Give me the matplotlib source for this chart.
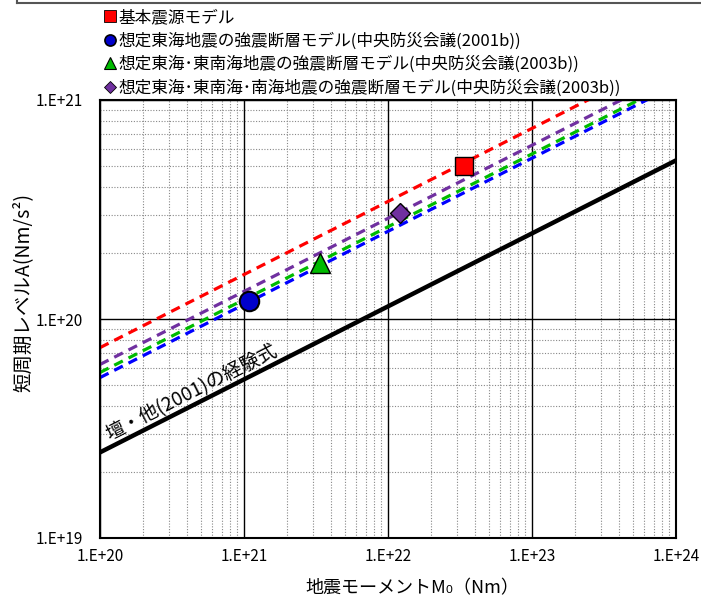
import numpy as np
import matplotlib
matplotlib.use("Agg")
import matplotlib.pyplot as plt
from matplotlib.lines import Line2D
from matplotlib.ticker import LogLocator, FixedLocator

plt.rcParams['font.family'] = ['Noto Sans CJK JP', 'DejaVu Sans']

# 壇・他(2001)の経験式 (端点)
dan_x = [1e20, 1e24]
dan_y = [2.46e19, 5.3e20]

# 破線 (各モデルを通る線の端点)
line_x = [1e20, 1e24]
red_y = [7.4e19, 1.6e21]
purple_y = [6.2e19, 1.34e21]
green_y = [5.7e19, 1.22e21]
blue_y = [5.4e19, 1.17e21]

# モデルの点
kihon_m0, kihon_a = 3.37e22, 5.0e20
tokai_m0, tokai_a = 1.08e21, 1.21e20
tonankai_m0, tonankai_a = 3.37e21, 1.80e20
nankai_m0, nankai_a = 1.21e22, 3.05e20

labels = ['基本震源モデル',
          '想定東海地震の強震断層モデル(中央防災会議(2001b))',
          '想定東海･東南海地震の強震断層モデル(中央防災会議(2003b))',
          '想定東海･東南海･南海地震の強震断層モデル(中央防災会議(2003b))']

xticks = [1e20, 1e21, 1e22, 1e23, 1e24]
xticklabels = ['1.E+20', '1.E+21', '1.E+22', '1.E+23', '1.E+24']
yticks = [1e19, 1e20, 1e21]
yticklabels = ['1.E+19', '1.E+20', '1.E+21']

fig = plt.figure(figsize=(7.01, 5.99), dpi=100)
ax = fig.add_axes([100/701, 61/599, 576/701, 438/599])
ax.set_xscale('log')
ax.set_yscale('log')
ax.set_xlim(1e20, 1e24)
ax.set_ylim(1e19, 1e21)

# グリッド
ax.xaxis.set_minor_locator(LogLocator(base=10, subs=np.arange(2, 10)))
ax.yaxis.set_minor_locator(LogLocator(base=10, subs=np.arange(2, 10)))
ax.grid(which='minor', color='#888888', linestyle=(0, (1, 1.5)), linewidth=0.8)
ax.grid(which='major', color='black', linestyle='-', linewidth=1.0)
ax.set_axisbelow(True)

ax.plot(dan_x, dan_y, color='black', linewidth=3.2, solid_capstyle='butt')
ax.plot(line_x, red_y, color='#ff0000', linestyle=(0, (3, 2)), linewidth=2.3)
ax.plot(line_x, purple_y, color='#7030a0', linestyle=(0, (3, 2)), linewidth=2.3)
ax.plot(line_x, green_y, color='#00bb00', linestyle=(0, (3, 2)), linewidth=2.3)
ax.plot(line_x, blue_y, color='#0000ff', linestyle=(0, (3, 2)), linewidth=2.3)

ax.plot(kihon_m0, kihon_a, marker='s', ms=13, color='#ff0000', mec='black', mew=1, linestyle='none', zorder=5)
ax.plot(tokai_m0, tokai_a, marker='o', ms=14, color='#0000cc', mec='black', mew=1.5, linestyle='none', zorder=5)
ax.plot(tonankai_m0, tonankai_a, marker='^', ms=14, color='#00bb00', mec='black', mew=1, linestyle='none', zorder=5)
ax.plot(nankai_m0, nankai_a, marker='D', ms=10, color='#7030a0', mec='black', mew=1, linestyle='none', zorder=5)

ax.text(4.3e20, 4.6e19, '壇・他(2001)の経験式', fontsize=13.8, rotation=27,
        rotation_mode='anchor', ha='center', va='center')

ax.xaxis.set_major_locator(FixedLocator(xticks))
ax.yaxis.set_major_locator(FixedLocator(yticks))
ax.set_xticklabels(xticklabels)
ax.set_yticklabels(yticklabels)
ax.tick_params(which='both', length=0, labelsize=11)
ax.tick_params(axis='x', pad=7)
ax.tick_params(axis='y', pad=12)
for s in ax.spines.values():
    s.set_linewidth(1.5)

ax.set_xlabel('地震モーメントM₀（Nm）', fontsize=13)
ax.set_ylabel('短周期レベルA(Nm/s²)', fontsize=14)
ax.xaxis.set_label_coords(0.542, -0.094)
ax.yaxis.set_label_coords(-0.115, 0.56)

# 凡例
handles = [Line2D([], [], marker='s', color='#ff0000', mec='black', mew=0.6, ms=8, linestyle='none'),
           Line2D([], [], marker='o', color='#0000cc', mec='black', mew=1.2, ms=8, linestyle='none'),
           Line2D([], [], marker='^', color='#00bb00', mec='black', mew=0.8, ms=8, linestyle='none'),
           Line2D([], [], marker='D', color='#7030a0', mec='black', mew=0.6, ms=6, linestyle='none')]
fig.legend(handles, labels, loc='upper left', bbox_to_anchor=(105/701, 1 - 9/599),
           frameon=False, fontsize=12, handlelength=0.6, handletextpad=0.2,
           labelspacing=0.38, borderpad=0, borderaxespad=0)

# 上部の枠線
fig.add_artist(Line2D([17/701, 700/701], [1 - 3/599, 1 - 3/599], color='#555555', linewidth=1.5))
fig.add_artist(Line2D([17/701, 17/701], [1 - 3/599, 1.0], color='#555555', linewidth=1.5))

fig.savefig('out.png', dpi=100)
